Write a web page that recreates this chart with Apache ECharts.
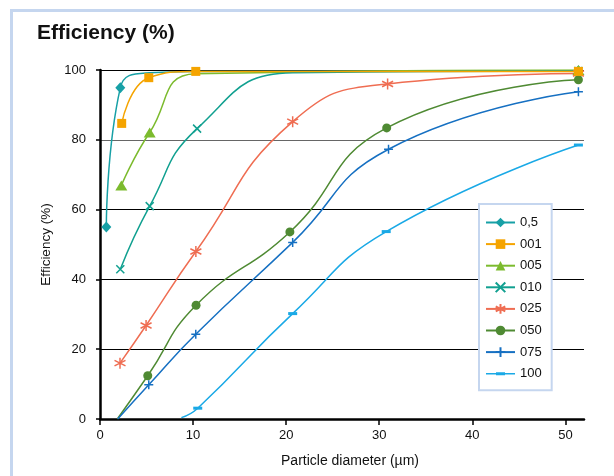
<!DOCTYPE html>
<html>
<head>
<meta charset="utf-8">
<script src="https://cdn.jsdelivr.net/npm/echarts@6/dist/echarts.min.js"></script>
<style>
html,body{margin:0;padding:0;background:#fff;}
#c{width:614px;height:476px;}
</style>
</head>
<body>
<div id="c"></div>
<script>
// ---- data ----
const titleText = 'Efficiency (%)';
const xAxisName = 'Particle diameter (µm)';
const yAxisName = 'Efficiency (%)';
const xTicks = [0, 10, 20, 30, 40, 50];
const yTicks = [0, 20, 40, 60, 80, 100];
const seriesNames = ['0,5', '001', '005', '010', '025', '050', '075', '100'];

const x_05 = [0.68, 2.18, 5.3, 10.3, 51.4];
const y_05 = [55, 94.9, 99.2, 99.6, 99.8];
const m_05 = [1, 1, 0, 0, 1];

const x_001 = [2.33, 5.24, 10.29, 51.4];
const y_001 = [84.7, 97.8, 99.6, 99.6];
const m_001 = [1, 1, 1, 1];

const x_005 = [2.29, 5.34, 10.3, 51.4];
const y_005 = [66.9, 82.1, 98.9, 100];
const m_005 = [1, 1, 0, 1];

const x_010 = [2.18, 5.34, 10.43, 20.7, 51.4];
const y_010 = [42.9, 61.0, 83.2, 99.2, 99.7];
const m_010 = [1, 1, 1, 0, 1];

const x_025 = [2.15, 4.95, 10.3, 20.7, 30.9, 51.4];
const y_025 = [16.0, 26.8, 48.0, 85.2, 96.0, 99.0];
const m_025 = [1, 1, 1, 1, 1, 1];

const x_050 = [1.86, 5.13, 10.32, 20.4, 30.8, 51.4];
const y_050 = [0, 12.4, 32.6, 53.6, 83.4, 97.2];
const m_050 = [0, 1, 1, 1, 1, 1];

const x_075 = [1.9, 5.24, 10.29, 20.7, 31.0, 51.4];
const y_075 = [0, 9.8, 24.3, 50.6, 77.3, 93.8];
const m_075 = [0, 1, 1, 1, 1, 1];

const x_100 = [8.74, 10.5, 20.7, 30.75, 51.4];
const y_100 = [0.4, 3.1, 30.2, 53.7, 78.5];
const m_100 = [0, 1, 1, 1, 1];

// ---- styles ----
const FONT = '"Liberation Sans", Arial, sans-serif';
const styles = [
  {color: '#17a0a6', symbol: 'diamond', size: [10, 11]},
  {color: '#f5a400', symbol: 'rect', size: 9},
  {color: '#7cbb2e', symbol: 'triangle', size: [12, 10]},
  {color: '#11a090', symbol: 'path://M0,0L10,10M10,0L0,10', size: 8, stroke: true},
  {color: '#ef6d52', symbol: 'path://M5,0L5,10M0.7,2.5L9.3,7.5M0.7,7.5L9.3,2.5', size: 11, stroke: true},
  {color: '#4f8a33', symbol: 'circle', size: 9},
  {color: '#1670c2', symbol: 'path://M5,0L5,10M0,5L10,5', size: 9, stroke: true},
  {color: '#1aa9e6', symbol: 'rect', size: [9, 3],
   legendIcon: 'path://M0,4.2L29,4.2L29,5.8L0,5.8Z M10,3.5L19,3.5L19,6.5L10,6.5Z'}
];
const xs = [x_05, x_001, x_005, x_010, x_025, x_050, x_075, x_100];
const ys = [y_05, y_001, y_005, y_010, y_025, y_050, y_075, y_100];
const ms = [m_05, m_001, m_005, m_010, m_025, m_050, m_075, m_100];

const series = seriesNames.map((name, i) => {
  const st = styles[i];
  return {
    name: name,
    type: 'line',
    smooth: 0.5,
    symbol: st.symbol,
    symbolSize: st.size,
    showAllSymbol: true,
    z: 2 + (i === 1 ? 10 : 0),
    lineStyle: {color: st.color, width: 1.5},
    itemStyle: {color: st.color, borderColor: st.color, borderWidth: st.stroke ? 1.5 : 0},
    emphasis: {disabled: true},
    data: xs[i].map((x, k) => ms[i][k] ? {value: [x, ys[i][k]]} : {value: [x, ys[i][k]], symbol: 'none'})
  };
});

const legendData = seriesNames.map((name, i) => styles[i].legendIcon
  ? {name: name, icon: styles[i].legendIcon, itemStyle: {color: styles[i].color, borderWidth: 0}}
  : {name: name});

const chart = echarts.init(document.getElementById('c'), null, {renderer: 'canvas'});
chart.setOption({
  animation: false,
  backgroundColor: '#ffffff',
  textStyle: {fontFamily: FONT},
  title: {
    text: titleText,
    left: 32, top: 18,
    textStyle: {fontFamily: FONT, fontWeight: 'bold', fontSize: 21, color: '#111'}
  },
  graphic: [{
    type: 'rect', left: 9, top: 8, z: -10,
    shape: {x: 0, y: 0, width: 800, height: 800},
    style: {fill: 'none', stroke: '#c5d6ef', lineWidth: 3}
  }],
  legend: {
    orient: 'vertical',
    left: 479, top: 204,
    padding: [12, 10, 10, 6],
    itemWidth: 29, itemHeight: 12, itemGap: 8.6,
    backgroundColor: '#ffffff',
    borderColor: '#c5d6ef', borderWidth: 2,
    textStyle: {fontFamily: FONT, fontSize: 13, color: '#111'},
    data: legendData
  },
  grid: {left: 100, right: 30, top: 70, bottom: 57},
  xAxis: {
    type: 'value', min: 0, max: 52, interval: 10,
    name: xAxisName, nameLocation: 'middle', nameGap: 35,
    nameTextStyle: {fontFamily: FONT, fontSize: 14, color: '#111', padding: [0, 0, 0, 16]},
    axisLine: {show: true, lineStyle: {color: '#000', width: 2.5}},
    axisTick: {show: true, length: 6, lineStyle: {color: '#000', width: 1.5}, customValues: xTicks},
    axisLabel: {fontFamily: FONT, fontSize: 13, color: '#111', margin: 10, customValues: xTicks},
    splitLine: {show: false}
  },
  yAxis: {
    type: 'value', min: 0, max: 100, interval: 20,
    name: yAxisName, nameLocation: 'middle', nameGap: 38, nameRotate: 90,
    nameTextStyle: {fontFamily: FONT, fontSize: 13.5, color: '#111'},
    axisLine: {show: true, lineStyle: {color: '#000', width: 2.5}},
    axisTick: {show: true, length: 4, lineStyle: {color: '#000', width: 1.5}, customValues: yTicks},
    axisLabel: {fontFamily: FONT, fontSize: 13, color: '#111', margin: 14, customValues: yTicks},
    splitLine: {show: true, lineStyle: {color: ['#000', '#000', '#000', '#000', '#666', '#000'], width: 1}}
  },
  series: series
});
</script>
</body>
</html>
